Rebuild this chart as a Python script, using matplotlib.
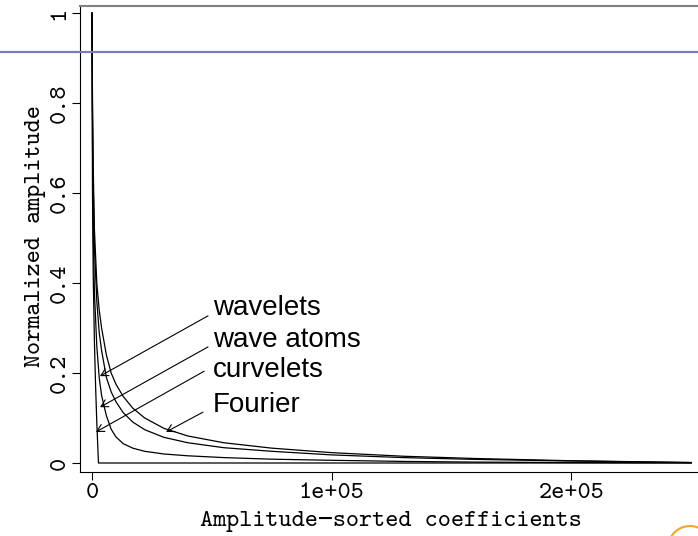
import matplotlib
matplotlib.use('Agg')
import matplotlib.pyplot as plt
from matplotlib.lines import Line2D
from matplotlib.patches import Arc

# sorted coefficient index (shared by the three smooth curves)
idx = [1, 200, 500, 1000, 2000, 3000, 4000, 6000, 8000, 10000, 13000, 17000,
       22000, 30000, 40000, 55000, 75000, 100000, 130000, 160000, 200000, 250000]

# normalized amplitudes, slowest decay first
amp_top = [1.0, 0.80, 0.66, 0.52, 0.40, 0.34, 0.30, 0.24, 0.20, 0.175, 0.148, 0.122,
           0.100, 0.077, 0.060, 0.045, 0.033, 0.023, 0.015, 0.010, 0.005, 0.001]
amp_second = [1.0, 0.78, 0.62, 0.48, 0.36, 0.29, 0.25, 0.19, 0.158, 0.136, 0.112, 0.091,
              0.074, 0.057, 0.045, 0.034, 0.026, 0.018, 0.012, 0.008, 0.0045, 0.001]
amp_third = [1.0, 0.72, 0.52, 0.38, 0.26, 0.19, 0.15, 0.105, 0.075, 0.058, 0.043, 0.033,
             0.026, 0.020, 0.016, 0.012, 0.0085, 0.006, 0.0035, 0.002, 0.001, 0.0003]

# the curve that drops to zero almost at once
idx_fast = [1, 200, 500, 1000, 1500, 2000, 2700, 250000]
amp_fast = [1.0, 0.60, 0.42, 0.27, 0.17, 0.09, 0.0, 0.0]

labels = ['wavelets', 'wave atoms', 'curvelets', 'Fourier']
label_x = [50500, 50500, 50500, 50500]
label_y = [0.329, 0.258, 0.191, 0.113]
tail_x = [48400, 48400, 46800, 46300]
tail_y = [0.327, 0.258, 0.204, 0.113]
tip_x = [3340, 3340, 1670, 30900]
tip_y = [0.193, 0.124, 0.069, 0.069]

xticks = [0, 100000, 200000]
xtick_labels = ['0', '1e+05', '2e+05']
yticks = [0, 0.2, 0.4, 0.6, 0.8, 1]
ytick_labels = ['0', '0.2', '0.4', '0.6', '0.8', '1']

# typewriter face like the R postscript output; cmtt10 ships with matplotlib
mono = ['cmtt10', 'DejaVu Sans Mono']

fig = plt.figure(figsize=(6.98, 5.36), dpi=100)
ax = fig.add_axes([80/698, 64/536, 0.91, 466/536])

for a in (amp_top, amp_second, amp_third):
    ax.plot(idx, a, color='black', lw=0.9)
ax.plot(idx_fast, amp_fast, color='black', lw=0.9)

for i in range(len(labels)):
    ax.text(label_x[i], label_y[i], labels[i], fontsize=20, va='baseline', ha='left',
            family=['Liberation Sans', 'DejaVu Sans'])
    ax.annotate('', xy=(tip_x[i], tip_y[i]), xytext=(tail_x[i], tail_y[i]),
                arrowprops=dict(arrowstyle='->,head_length=0.5,head_width=0.28',
                                lw=0.8, color='black', shrinkA=0, shrinkB=0,
                                mutation_scale=10))

ax.set_xlim(-5010, 260000)
ax.set_ylim(-0.02, 1.0156)

ax.set_xticks(xticks)
ax.set_xticklabels(xtick_labels, family=mono, fontsize=18)
ax.set_yticks(yticks)
ax.set_yticklabels(ytick_labels, family=mono, fontsize=18, rotation=90, va='center')
ax.tick_params(axis='both', length=5.5, width=0.8, color='black')
ax.tick_params(axis='x', pad=2.5)
ax.tick_params(axis='y', pad=1.5)

ax.spines['top'].set_color('#808080')
ax.spines['top'].set_linewidth(1.5)
for s in ('left', 'bottom'):
    ax.spines[s].set_linewidth(0.8)
ax.spines['right'].set_visible(False)

fig.text(391/698, 1 - 526/536, 'Amplitude\u2212sorted coefficients', family=mono,
         fontsize=18, ha='center', va='baseline')
fig.text(36/698, 1 - 236/536, 'Normalized amplitude', family=mono, fontsize=18,
         rotation=90, ha='center', va='center')

# slide decoration: blue rule and a bit of logo in the corner
fig.add_artist(Line2D([0, 1], [1 - 51.7/536, 1 - 51.7/536], color='#7a7db5', lw=1.6))
fig.add_artist(Arc((690/698, 1 - 548/536), 44/698, 44/536, theta1=20, theta2=160,
                   color='#f5a623', lw=1.5, transform=fig.transFigure))

fig.savefig('out.png', dpi=100)
